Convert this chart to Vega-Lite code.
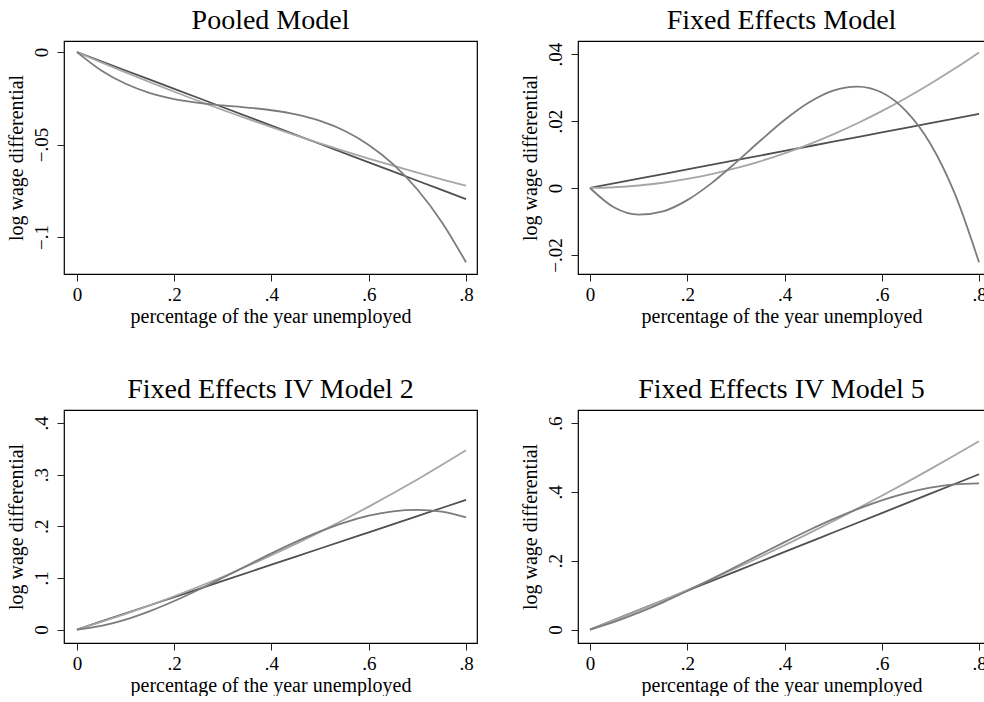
{
  "$schema": "https://vega.github.io/schema/vega-lite/v6.json",
  "padding": {"left": 5, "top": 6, "right": 0, "bottom": 0},
  "background": "white",
  "config": {
    "font": "Liberation Serif",
    "view": {"stroke": "black", "strokeWidth": 1.2},
    "axis": {"grid": false, "domain": false, "tickColor": "#222222", "tickSize": 7, "tickWidth": 1,
      "labelFont": "Liberation Serif", "labelFontSize": 19, "labelColor": "black",
      "titleFont": "Liberation Serif", "titleFontSize": 20, "titleFontWeight": "normal", "titleColor": "black"},
    "axisX": {"labelPadding": 4, "titlePadding": 2},
    "axisY": {"labelPadding": 6, "titlePadding": 6, "labelAngle": -90, "labelAlign": "center", "labelBaseline": "bottom"},
    "title": {"font": "Liberation Serif", "fontSize": 28, "fontWeight": "normal", "color": "black", "offset": 6, "baseline": "bottom", "anchor": "middle", "frame": "group"},
    "line": {"strokeWidth": 1.8, "interpolate": "monotone"}
  },
  "datasets": {
    "d": [
      {"p":"P","m":"lin","x":0,"y":0},{"p":"P","m":"lin","x":0.1,"y":-0.00994},{"p":"P","m":"lin","x":0.2,"y":-0.01988},{"p":"P","m":"lin","x":0.3,"y":-0.02982},{"p":"P","m":"lin","x":0.4,"y":-0.03976},{"p":"P","m":"lin","x":0.5,"y":-0.0497},{"p":"P","m":"lin","x":0.6,"y":-0.05964},{"p":"P","m":"lin","x":0.7,"y":-0.06958},{"p":"P","m":"lin","x":0.8,"y":-0.07952},
      {"p":"P","m":"quad","x":0,"y":0},{"p":"P","m":"quad","x":0.05,"y":-0.00557},{"p":"P","m":"quad","x":0.1,"y":-0.011},{"p":"P","m":"quad","x":0.15,"y":-0.01629},{"p":"P","m":"quad","x":0.2,"y":-0.02144},{"p":"P","m":"quad","x":0.25,"y":-0.02644},{"p":"P","m":"quad","x":0.3,"y":-0.03131},{"p":"P","m":"quad","x":0.35,"y":-0.03604},{"p":"P","m":"quad","x":0.4,"y":-0.04062},{"p":"P","m":"quad","x":0.45,"y":-0.04507},{"p":"P","m":"quad","x":0.5,"y":-0.04938},{"p":"P","m":"quad","x":0.55,"y":-0.05354},{"p":"P","m":"quad","x":0.6,"y":-0.05756},{"p":"P","m":"quad","x":0.65,"y":-0.06145},{"p":"P","m":"quad","x":0.7,"y":-0.06519},{"p":"P","m":"quad","x":0.75,"y":-0.06879},{"p":"P","m":"quad","x":0.8,"y":-0.07226},
      {"p":"P","m":"cub","x":0,"y":0},{"p":"P","m":"cub","x":0.05,"y":-0.00992},{"p":"P","m":"cub","x":0.1,"y":-0.01713},{"p":"P","m":"cub","x":0.15,"y":-0.02213},{"p":"P","m":"cub","x":0.2,"y":-0.02541},{"p":"P","m":"cub","x":0.25,"y":-0.02748},{"p":"P","m":"cub","x":0.3,"y":-0.02885},{"p":"P","m":"cub","x":0.35,"y":-0.03},{"p":"P","m":"cub","x":0.4,"y":-0.03145},{"p":"P","m":"cub","x":0.45,"y":-0.03369},{"p":"P","m":"cub","x":0.5,"y":-0.03723},{"p":"P","m":"cub","x":0.55,"y":-0.04255},{"p":"P","m":"cub","x":0.6,"y":-0.05018},{"p":"P","m":"cub","x":0.65,"y":-0.0606},{"p":"P","m":"cub","x":0.7,"y":-0.07431},{"p":"P","m":"cub","x":0.75,"y":-0.09183},{"p":"P","m":"cub","x":0.8,"y":-0.11364},
      {"p":"FE","m":"lin","x":0,"y":0},{"p":"FE","m":"lin","x":0.1,"y":0.00276},{"p":"FE","m":"lin","x":0.2,"y":0.00553},{"p":"FE","m":"lin","x":0.3,"y":0.00829},{"p":"FE","m":"lin","x":0.4,"y":0.01105},{"p":"FE","m":"lin","x":0.5,"y":0.01382},{"p":"FE","m":"lin","x":0.6,"y":0.01658},{"p":"FE","m":"lin","x":0.7,"y":0.01934},{"p":"FE","m":"lin","x":0.8,"y":0.0221},
      {"p":"FE","m":"quad","x":0,"y":0},{"p":"FE","m":"quad","x":0.05,"y":0.00021},{"p":"FE","m":"quad","x":0.1,"y":0.00073},{"p":"FE","m":"quad","x":0.15,"y":0.00156},{"p":"FE","m":"quad","x":0.2,"y":0.0027},{"p":"FE","m":"quad","x":0.25,"y":0.00415},{"p":"FE","m":"quad","x":0.3,"y":0.00591},{"p":"FE","m":"quad","x":0.35,"y":0.00797},{"p":"FE","m":"quad","x":0.4,"y":0.01035},{"p":"FE","m":"quad","x":0.45,"y":0.01304},{"p":"FE","m":"quad","x":0.5,"y":0.01603},{"p":"FE","m":"quad","x":0.55,"y":0.01934},{"p":"FE","m":"quad","x":0.6,"y":0.02295},{"p":"FE","m":"quad","x":0.65,"y":0.02687},{"p":"FE","m":"quad","x":0.7,"y":0.03111},{"p":"FE","m":"quad","x":0.75,"y":0.03565},{"p":"FE","m":"quad","x":0.8,"y":0.0405},
      {"p":"FE","m":"cub","x":0,"y":0},{"p":"FE","m":"cub","x":0.05,"y":-0.00586},{"p":"FE","m":"cub","x":0.1,"y":-0.00797},{"p":"FE","m":"cub","x":0.15,"y":-0.007},{"p":"FE","m":"cub","x":0.2,"y":-0.00363},{"p":"FE","m":"cub","x":0.25,"y":0.00145},{"p":"FE","m":"cub","x":0.3,"y":0.00759},{"p":"FE","m":"cub","x":0.35,"y":0.01409},{"p":"FE","m":"cub","x":0.4,"y":0.02029},{"p":"FE","m":"cub","x":0.45,"y":0.02551},{"p":"FE","m":"cub","x":0.5,"y":0.02907},{"p":"FE","m":"cub","x":0.55,"y":0.0303},{"p":"FE","m":"cub","x":0.6,"y":0.02852},{"p":"FE","m":"cub","x":0.65,"y":0.02296},{"p":"FE","m":"cub","x":0.7,"y":0.01323},{"p":"FE","m":"cub","x":0.75,"y":-0.00163},{"p":"FE","m":"cub","x":0.8,"y":-0.0222},
      {"p":"IV2","m":"lin","x":0,"y":0},{"p":"IV2","m":"lin","x":0.1,"y":0.03138},{"p":"IV2","m":"lin","x":0.2,"y":0.06276},{"p":"IV2","m":"lin","x":0.3,"y":0.09414},{"p":"IV2","m":"lin","x":0.4,"y":0.12552},{"p":"IV2","m":"lin","x":0.5,"y":0.1569},{"p":"IV2","m":"lin","x":0.6,"y":0.18828},{"p":"IV2","m":"lin","x":0.7,"y":0.21966},{"p":"IV2","m":"lin","x":0.8,"y":0.25104},
      {"p":"IV2","m":"quad","x":0,"y":0},{"p":"IV2","m":"quad","x":0.05,"y":0.01472},{"p":"IV2","m":"quad","x":0.1,"y":0.03036},{"p":"IV2","m":"quad","x":0.15,"y":0.04694},{"p":"IV2","m":"quad","x":0.2,"y":0.06444},{"p":"IV2","m":"quad","x":0.25,"y":0.08288},{"p":"IV2","m":"quad","x":0.3,"y":0.10224},{"p":"IV2","m":"quad","x":0.35,"y":0.12254},{"p":"IV2","m":"quad","x":0.4,"y":0.14376},{"p":"IV2","m":"quad","x":0.45,"y":0.16592},{"p":"IV2","m":"quad","x":0.5,"y":0.189},{"p":"IV2","m":"quad","x":0.55,"y":0.21302},{"p":"IV2","m":"quad","x":0.6,"y":0.23796},{"p":"IV2","m":"quad","x":0.65,"y":0.26384},{"p":"IV2","m":"quad","x":0.7,"y":0.29064},{"p":"IV2","m":"quad","x":0.75,"y":0.31838},{"p":"IV2","m":"quad","x":0.8,"y":0.34704},
      {"p":"IV2","m":"cub","x":0,"y":0},{"p":"IV2","m":"cub","x":0.05,"y":0.00721},{"p":"IV2","m":"cub","x":0.1,"y":0.01941},{"p":"IV2","m":"cub","x":0.15,"y":0.0357},{"p":"IV2","m":"cub","x":0.2,"y":0.0552},{"p":"IV2","m":"cub","x":0.25,"y":0.07703},{"p":"IV2","m":"cub","x":0.3,"y":0.10029},{"p":"IV2","m":"cub","x":0.35,"y":0.12411},{"p":"IV2","m":"cub","x":0.4,"y":0.14759},{"p":"IV2","m":"cub","x":0.45,"y":0.16985},{"p":"IV2","m":"cub","x":0.5,"y":0.19},{"p":"IV2","m":"cub","x":0.55,"y":0.20716},{"p":"IV2","m":"cub","x":0.6,"y":0.22044},{"p":"IV2","m":"cub","x":0.65,"y":0.22896},{"p":"IV2","m":"cub","x":0.7,"y":0.2318},{"p":"IV2","m":"cub","x":0.75,"y":0.22812},{"p":"IV2","m":"cub","x":0.8,"y":0.21701},
      {"p":"IV5","m":"lin","x":0,"y":0},{"p":"IV5","m":"lin","x":0.1,"y":0.05641},{"p":"IV5","m":"lin","x":0.2,"y":0.11282},{"p":"IV5","m":"lin","x":0.3,"y":0.16923},{"p":"IV5","m":"lin","x":0.4,"y":0.22564},{"p":"IV5","m":"lin","x":0.5,"y":0.28205},{"p":"IV5","m":"lin","x":0.6,"y":0.33846},{"p":"IV5","m":"lin","x":0.7,"y":0.39487},{"p":"IV5","m":"lin","x":0.8,"y":0.45128},
      {"p":"IV5","m":"quad","x":0,"y":0},{"p":"IV5","m":"quad","x":0.05,"y":0.02743},{"p":"IV5","m":"quad","x":0.1,"y":0.05576},{"p":"IV5","m":"quad","x":0.15,"y":0.08499},{"p":"IV5","m":"quad","x":0.2,"y":0.11513},{"p":"IV5","m":"quad","x":0.25,"y":0.14617},{"p":"IV5","m":"quad","x":0.3,"y":0.17811},{"p":"IV5","m":"quad","x":0.35,"y":0.21096},{"p":"IV5","m":"quad","x":0.4,"y":0.24471},{"p":"IV5","m":"quad","x":0.45,"y":0.27937},{"p":"IV5","m":"quad","x":0.5,"y":0.31493},{"p":"IV5","m":"quad","x":0.55,"y":0.35139},{"p":"IV5","m":"quad","x":0.6,"y":0.38875},{"p":"IV5","m":"quad","x":0.65,"y":0.42702},{"p":"IV5","m":"quad","x":0.7,"y":0.46619},{"p":"IV5","m":"quad","x":0.75,"y":0.50627},{"p":"IV5","m":"quad","x":0.8,"y":0.54725},
      {"p":"IV5","m":"cub","x":0,"y":0},{"p":"IV5","m":"cub","x":0.05,"y":0.02237},{"p":"IV5","m":"cub","x":0.1,"y":0.04903},{"p":"IV5","m":"cub","x":0.15,"y":0.07917},{"p":"IV5","m":"cub","x":0.2,"y":0.112},{"p":"IV5","m":"cub","x":0.25,"y":0.14672},{"p":"IV5","m":"cub","x":0.3,"y":0.18253},{"p":"IV5","m":"cub","x":0.35,"y":0.21863},{"p":"IV5","m":"cub","x":0.4,"y":0.25423},{"p":"IV5","m":"cub","x":0.45,"y":0.28852},{"p":"IV5","m":"cub","x":0.5,"y":0.32071},{"p":"IV5","m":"cub","x":0.55,"y":0.35},{"p":"IV5","m":"cub","x":0.6,"y":0.37559},{"p":"IV5","m":"cub","x":0.65,"y":0.39669},{"p":"IV5","m":"cub","x":0.7,"y":0.41248},{"p":"IV5","m":"cub","x":0.75,"y":0.42219},{"p":"IV5","m":"cub","x":0.8,"y":0.425}
    ]
  },
  "resolve": {"scale": {"color": "shared"}},
  "spacing": 48,
  "vconcat": [
    {
      "spacing": 41,
      "resolve": {"scale": {"x": "independent", "y": "independent"}},
      "hconcat": [
        {
          "title": "Pooled Model", "width": 413, "height": 233,
          "data": {"name": "d"},
          "transform": [{"filter": "datum.p === 'P'"}],
          "mark": {"type": "line"},
          "encoding": {
            "x": {"field": "x", "type": "quantitative", "scale": {"domain": [-0.0267, 0.8226], "nice": false, "zero": false},
              "axis": {"values": [0, 0.2, 0.4, 0.6, 0.8], "title": "percentage of the year unemployed", "labelExpr": "replace(replace(toString(datum.value), '0.', '.'), '-', '−')"}},
            "y": {"field": "y", "type": "quantitative", "scale": {"domain": [-0.12, 0.006], "nice": false, "zero": false},
              "axis": {"values": [-0.1, -0.05, 0], "title": "log wage differential", "labelExpr": "replace(replace(toString(datum.value), '0.', '.'), '-', '−')"}},
            "color": {"field": "m", "type": "nominal", "scale": {"domain": ["lin", "quad", "cub"], "range": ["#505050", "#a6a6a6", "#7c7c7c"]}, "legend": null}
          }
        },
        {
          "title": "Fixed Effects Model", "width": 407, "height": 233,
          "data": {"name": "d"},
          "transform": [{"filter": "datum.p === 'FE'"}],
          "mark": {"type": "line"},
          "encoding": {
            "x": {"field": "x", "type": "quantitative", "scale": {"domain": [-0.0247, 0.8123], "nice": false, "zero": false},
              "axis": {"values": [0, 0.2, 0.4, 0.6, 0.8], "title": "percentage of the year unemployed", "labelExpr": "replace(replace(toString(datum.value), '0.', '.'), '-', '−')"}},
            "y": {"field": "y", "type": "quantitative", "scale": {"domain": [-0.0257, 0.0439], "nice": false, "zero": false},
              "axis": {"values": [-0.02, 0, 0.02, 0.04], "title": "log wage differential", "labelExpr": "replace(replace(toString(datum.value), '0.', '.'), '-', '−')"}},
            "color": {"field": "m", "type": "nominal", "scale": {"domain": ["lin", "quad", "cub"], "range": ["#505050", "#a6a6a6", "#7c7c7c"]}, "legend": null}
          }
        }
      ]
    },
    {
      "spacing": 41,
      "resolve": {"scale": {"x": "independent", "y": "independent"}},
      "hconcat": [
        {
          "title": "Fixed Effects IV Model 2", "width": 413, "height": 233,
          "data": {"name": "d"},
          "transform": [{"filter": "datum.p === 'IV2'"}],
          "mark": {"type": "line"},
          "encoding": {
            "x": {"field": "x", "type": "quantitative", "scale": {"domain": [-0.0267, 0.8226], "nice": false, "zero": false},
              "axis": {"values": [0, 0.2, 0.4, 0.6, 0.8], "title": "percentage of the year unemployed", "labelExpr": "replace(replace(toString(datum.value), '0.', '.'), '-', '−')"}},
            "y": {"field": "y", "type": "quantitative", "scale": {"domain": [-0.026, 0.425], "nice": false, "zero": false},
              "axis": {"values": [0, 0.1, 0.2, 0.3, 0.4], "title": "log wage differential", "labelExpr": "replace(replace(toString(datum.value), '0.', '.'), '-', '−')"}},
            "color": {"field": "m", "type": "nominal", "scale": {"domain": ["lin", "quad", "cub"], "range": ["#505050", "#a6a6a6", "#7c7c7c"]}, "legend": null}
          }
        },
        {
          "title": "Fixed Effects IV Model 5", "width": 407, "height": 233,
          "data": {"name": "d"},
          "transform": [{"filter": "datum.p === 'IV5'"}],
          "mark": {"type": "line"},
          "encoding": {
            "x": {"field": "x", "type": "quantitative", "scale": {"domain": [-0.0247, 0.8123], "nice": false, "zero": false},
              "axis": {"values": [0, 0.2, 0.4, 0.6, 0.8], "title": "percentage of the year unemployed", "labelExpr": "replace(replace(toString(datum.value), '0.', '.'), '-', '−')"}},
            "y": {"field": "y", "type": "quantitative", "scale": {"domain": [-0.039, 0.638], "nice": false, "zero": false},
              "axis": {"values": [0, 0.2, 0.4, 0.6], "title": "log wage differential", "labelExpr": "replace(replace(toString(datum.value), '0.', '.'), '-', '−')"}},
            "color": {"field": "m", "type": "nominal", "scale": {"domain": ["lin", "quad", "cub"], "range": ["#505050", "#a6a6a6", "#7c7c7c"]}, "legend": null}
          }
        }
      ]
    }
  ]
}
